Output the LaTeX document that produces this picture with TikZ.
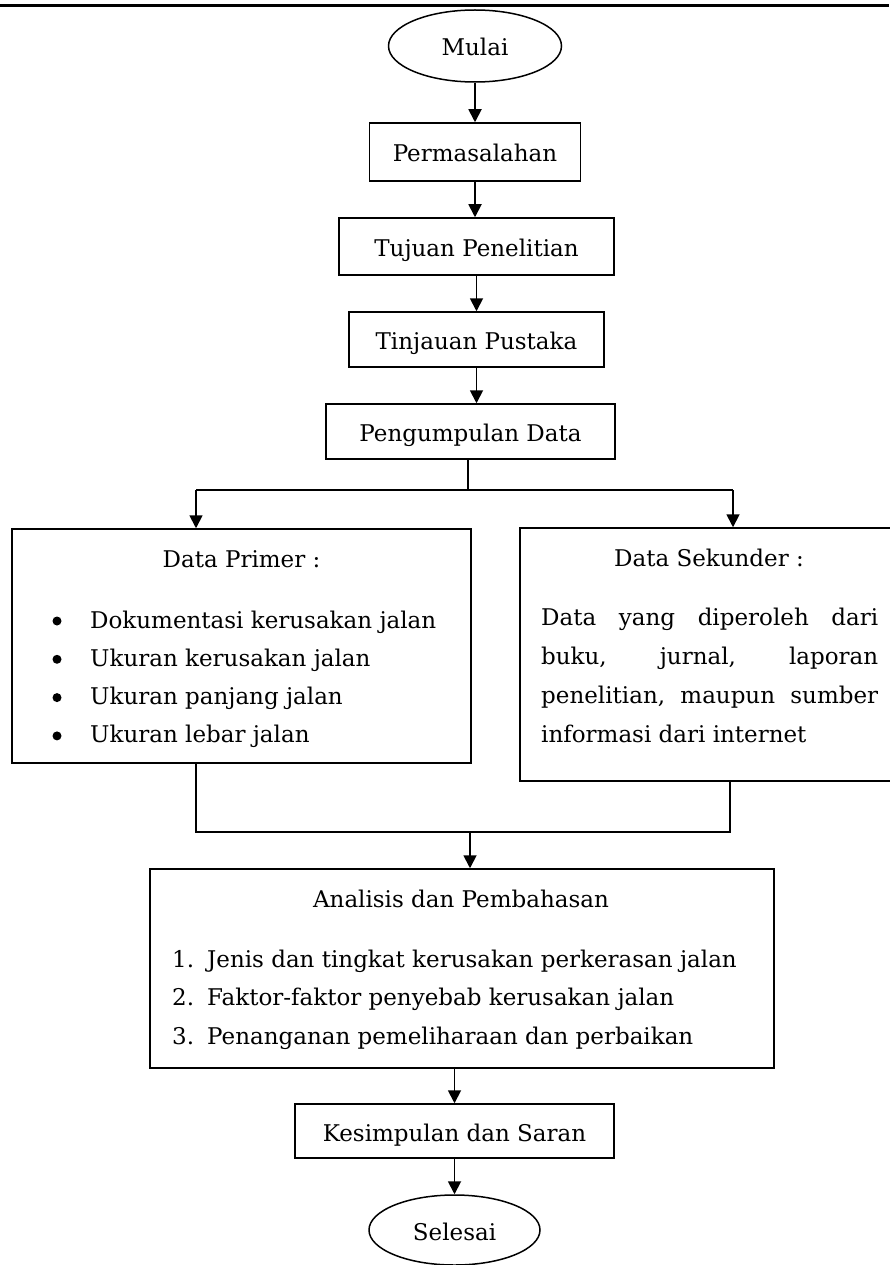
\documentclass[tikz,border=0pt]{standalone}
\usepackage{fontspec}
\setmainfont{DejaVu Serif}
\usetikzlibrary{positioning,
                arrows.meta,                % arrow tips
                shapes.geometric}           % ellipse

\begin{document}
\begin{tikzpicture}[x=1pt, y=-1pt,
        font=\fontsize{23}{38}\selectfont,
        kotak/.style={draw, line width=1.5pt, rectangle, inner sep=0pt,
                      text height=20pt, text depth=0pt},
        oval/.style={draw, line width=1.5pt, ellipse, inner sep=0pt,
                     text height=20pt, text depth=0pt},
        teks/.style={inner sep=0pt},
        garis/.style={line width=1.8pt},
        panah/.style={garis, -{Triangle[length=13pt, width=13pt]}}]
    \useasboundingbox (0,0) rectangle (889,1265);
    \draw[line width=2.5pt] (0,5.5) -- (889,5.5);

    \node[oval, minimum width=173, minimum height=72] (mulai) at (475,46) {Mulai};
    \node[kotak, minimum width=211, minimum height=58] (masalah) at (475,152) {Permasalahan};
    \node[kotak, minimum width=275, minimum height=57] (tujuan) at (476.5,246.5) {Tujuan Penelitian};
    \node[kotak, minimum width=255, minimum height=55] (tinjauan) at (476.5,339.5) {Tinjauan Pustaka};
    \node[kotak, minimum width=289, minimum height=55] (kumpul) at (470.5,431.5) {Pengumpulan Data};

    % data primer
    \node[kotak, minimum width=459, minimum height=234] (primer) at (241.5,646) {};
    \node[teks, anchor=base] (primerjudul) at (241.5,567) {Data Primer :};
    \foreach \teks [count=\i] in {Dokumentasi kerusakan jalan, Ukuran kerusakan jalan,
                                  Ukuran panjang jalan, Ukuran lebar jalan}
    {
        \fill (57,{621+38.3*(\i-1)}) circle (4.5pt);
        \node[teks, anchor=base west] (primer\i) at (90,{628+38.3*(\i-1)}) {\teks};
    }

    % data sekunder
    \node[kotak, minimum width=378, minimum height=253] (sekunder) at (709,654.5) {};
    \node[teks, anchor=base] (sekunderjudul) at (709,566) {Data Sekunder :};
    \node[teks, anchor=base west] (sekunder1) at (541,625) {\hbox to 337pt{Data\hfill yang\hfill diperoleh\hfill dari}};
    \node[teks, anchor=base west] (sekunder2) at (541,664) {\hbox to 337pt{buku,\hfill jurnal,\hfill laporan}};
    \node[teks, anchor=base west] (sekunder3) at (541,703) {\hbox to 337pt{penelitian,\hfill maupun\hfill sumber}};
    \node[teks, anchor=base west] (sekunder4) at (541,742) {informasi dari internet};

    % analisis
    \node[kotak, minimum width=624, minimum height=199] (analisis) at (462,968.5) {};
    \node[teks, anchor=base] (analisisjudul) at (461,907) {Analisis dan Pembahasan};
    \foreach \teks [count=\i] in {Jenis dan tingkat kerusakan perkerasan jalan,
                                  Faktor-faktor penyebab kerusakan jalan,
                                  Penanganan pemeliharaan dan perbaikan}
    {
        \node[teks, anchor=base west] (nomor\i) at (172,{967+38.5*(\i-1)}) {\i.};
        \node[teks, anchor=base west] (butir\i) at (207,{967+38.5*(\i-1)}) {\teks};
    }

    \node[kotak, minimum width=319, minimum height=54] (simpul) at (454.5,1131) {Kesimpulan dan Saran};
    \node[oval, minimum width=171, minimum height=70] (selesai) at (454.5,1230) {Selesai};

    % connectors
    \coordinate (cabang) at (468,490);
    \coordinate (kiri) at (196,490);
    \coordinate (kanan) at (733,490);
    \coordinate (gabung) at (470,832);
    \coordinate (gabungkiri) at (196,832);
    \coordinate (gabungkanan) at (730,832);

    \draw[panah] (mulai.south) -- (mulai.south |- masalah.north);
    \draw[panah] (masalah.south) -- (masalah.south |- tujuan.north);
    \draw[panah] (tujuan.south) -- (tujuan.south |- tinjauan.north);
    \draw[panah] (tinjauan.south) -- (tinjauan.south |- kumpul.north);
    \draw[garis] (cabang |- kumpul.south) -- (cabang);
    \draw[garis] (kiri) -- (kanan);
    \draw[panah] (kiri) -- (kiri |- primer.north);
    \draw[panah] (kanan) -- (kanan |- sekunder.north);
    \draw[garis] (gabungkiri |- primer.south) -- (gabungkiri) -- (gabungkanan) -- (gabungkanan |- sekunder.south);
    \draw[panah] (gabung) -- (gabung |- analisis.north);
    \draw[panah] (simpul.north |- analisis.south) -- (simpul.north);
    \draw[panah] (simpul.south) -- (selesai.north);
\end{tikzpicture}
\end{document}
